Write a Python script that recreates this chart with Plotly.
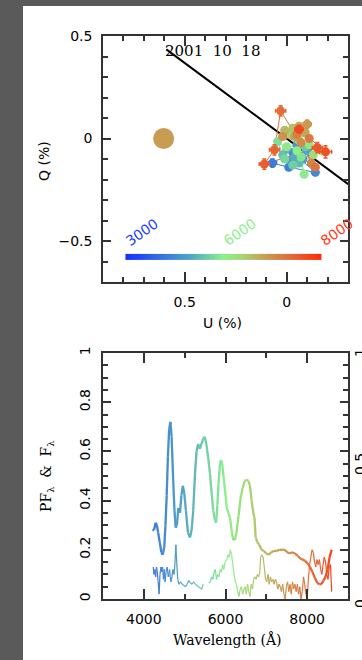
import plotly.graph_objects as go
from plotly.colors import sample_colorscale
import numpy as np

W, H = 362, 660

# ---------------- data ----------------
# interstellar-polarization direction line in Q-U plane
line_u = [0.590, 0.400, 0.200, 0.000, -0.200, -0.301]
line_q = [0.435, 0.295, 0.147, -0.001, -0.149, -0.223]

# big dot
dot_u = [0.603]
dot_q = [0.0]
dot_wave = [7300]

# binned Q-U points
qu_wave = [4250, 4350, 4450, 4550, 4650, 4750, 4850, 4950, 5050, 5150, 5250,
           5350, 5450, 5550, 5650, 5750, 5850, 5950, 6050, 6150, 6250, 6350,
           6450, 6550, 6650, 6750, 6850, 6950, 7050, 7150, 7250, 7350, 7450,
           7550, 7650, 7750, 7850, 7950, 8050, 8150, 8250, 8350, 8450, 8550]
qu_u = [0.07, -0.01, -0.14, -0.03, -0.05, -0.08, -0.02, -0.10, -0.04, 0.00, -0.06,
        0.02, -0.09, -0.03, 0.01, 0.045, -0.07, -0.085, -0.05, 0.00, -0.11, -0.17,
        -0.13, -0.06, -0.02, -0.08, -0.03, 0.01, -0.06, -0.09, -0.04, -0.10, 0.02,
        -0.07, -0.12, -0.05, -0.11, -0.14, 0.03, 0.06, 0.11, -0.15, -0.19, -0.06]
qu_q = [-0.12, -0.14, -0.165, -0.07, -0.03, -0.10, -0.11, -0.06, -0.09, -0.05, -0.12,
        -0.08, -0.04, -0.13, -0.10, -0.015, -0.09, -0.175, -0.06, -0.04, -0.03, -0.06,
        -0.08, -0.01, 0.02, 0.03, 0.05, 0.04, 0.06, 0.03, 0.01, 0.07, 0.01,
        -0.02, -0.12, 0.02, 0.00, -0.14, 0.135, -0.055, -0.125, -0.045, -0.065, 0.045]
qu_err = [0.02, 0.015, 0.015, 0.012, 0.012, 0.012, 0.012, 0.012, 0.012, 0.012, 0.012,
          0.012, 0.012, 0.012, 0.012, 0.012, 0.012, 0.012, 0.012, 0.012, 0.012, 0.015,
          0.012, 0.012, 0.012, 0.015, 0.015, 0.015, 0.015, 0.015, 0.015, 0.02, 0.015,
          0.015, 0.015, 0.015, 0.015, 0.015, 0.025, 0.025, 0.025, 0.025, 0.03, 0.02]

# total flux (upper curve)
flux_wave = [4210, 4250, 4290, 4320, 4350, 4390, 4430, 4460, 4500, 4530, 4560, 4590,
             4620, 4650, 4680, 4720, 4750, 4780, 4810, 4845, 4885, 4920, 4955, 4990,
             5030, 5080, 5130, 5170, 5210, 5250, 5290, 5330, 5370, 5410, 5450, 5490,
             5530, 5580, 5620, 5660, 5700, 5740, 5770, 5800, 5830, 5860, 5890, 5920,
             5950, 5990, 6030, 6070, 6110, 6150, 6190, 6230, 6270, 6320, 6370, 6420,
             6470, 6520, 6560, 6600, 6640, 6680, 6710, 6740, 6780, 6830, 6880, 6940,
             7000, 7060, 7120, 7180, 7250, 7320, 7390, 7450, 7510, 7570, 7630, 7700,
             7770, 7830, 7890, 7950, 8010, 8070, 8130, 8190, 8250, 8300, 8350, 8400,
             8450, 8500, 8550, 8600]
flux_val = [0.28, 0.28, 0.31, 0.30, 0.27, 0.23, 0.19, 0.18, 0.21, 0.30, 0.42, 0.58,
            0.69, 0.72, 0.66, 0.48, 0.36, 0.29, 0.30, 0.37, 0.35, 0.42, 0.46, 0.43,
            0.36, 0.27, 0.25, 0.28, 0.36, 0.50, 0.60, 0.63, 0.61, 0.63, 0.65, 0.66,
            0.63, 0.57, 0.51, 0.43, 0.36, 0.32, 0.31, 0.38, 0.47, 0.54, 0.565, 0.55,
            0.50, 0.44, 0.37, 0.35, 0.33, 0.28, 0.24, 0.24, 0.27, 0.34, 0.41, 0.45,
            0.48, 0.485, 0.48, 0.46, 0.40, 0.35, 0.33, 0.25, 0.23, 0.22, 0.20, 0.195,
            0.185, 0.18, 0.19, 0.195, 0.195, 0.20, 0.20, 0.20, 0.19, 0.185, 0.19, 0.185,
            0.175, 0.165, 0.16, 0.155, 0.145, 0.13, 0.11, 0.085, 0.065, 0.06, 0.06, 0.075,
            0.09, 0.12, 0.17, 0.20]

# polarized flux (lower noisy curve); None marks a gap
pf_wave = [4230, 4250, 4270, 4290, 4310, 4330, 4350, 4375, 4395, 4420, 4440, 4460,
           4480, 4500, 4520, 4545, 4570, 4600, 4630, 4660, 4680, 4710, 4740, 4760,
           4785, 4805, 4830, 4860, 4900, 4940, 4980, 5020, 5060, 5100, 5140, 5180,
           5220, 5260, 5300, 5340, 5380, 5420, 5450, 5520, 5590, 5630, 5660, 5690,
           5720, 5750, 5780, 5810, 5840, 5870, 5900, 5930, 5960, 5990, 6030, 6060,
           6090, 6120, 6150, 6180, 6210, 6240, 6270, 6300, 6330, 6360, 6390, 6420,
           6450, 6480, 6510, 6540, 6570, 6600, 6630, 6660, 6690, 6720, 6750, 6780,
           6810, 6840, 6860, 6890, 6920, 6950, 6980, 7010, 7040, 7070, 7100, 7130,
           7160, 7190, 7220, 7250, 7280, 7310, 7340, 7370, 7400, 7430, 7460, 7490,
           7520, 7550, 7580, 7610, 7640, 7670, 7700, 7730, 7760, 7790, 7820, 7850,
           7880, 7910, 7940, 7970, 8000, 8030, 8060, 8090, 8120, 8150, 8180, 8210,
           8240, 8270, 8300, 8330, 8360, 8390, 8420, 8450, 8480, 8510, 8540, 8570,
           8600]
pf_val = [0.13, 0.10, 0.12, 0.09, 0.13, 0.11, 0.07, 0.02, 0.10, 0.13, 0.11, 0.13,
          0.08, 0.12, 0.07, 0.11, 0.13, 0.09, 0.12, 0.07, 0.08, 0.12, 0.10, 0.14,
          0.22, 0.15, 0.08, 0.06, 0.07, 0.06, 0.055, 0.05, 0.06, 0.075, 0.065, 0.06,
          0.07, 0.06, 0.055, 0.05, 0.045, 0.04, 0.06, None, 0.065, 0.07, 0.09, 0.08,
          0.11, 0.12, 0.08, 0.10, 0.09, 0.12, 0.11, 0.14, 0.12, 0.15, 0.16, 0.18,
          0.17, 0.20, 0.18, 0.14, 0.10, 0.07, 0.06, 0.03, 0.01, 0.04, 0.05, 0.02,
          0.04, 0.05, 0.02, 0.06, 0.03, 0.01, 0.06, 0.04, 0.08, 0.09, 0.08, 0.10,
          0.09, 0.11, 0.17, 0.18, 0.17, 0.13, 0.08, 0.07, 0.10, 0.06, 0.09, 0.07,
          0.08, 0.06, 0.08, 0.07, 0.04, 0.06, 0.05, 0.03, 0.06, 0.02, 0.00, 0.05,
          0.07, 0.03, 0.06, 0.02, 0.07, 0.04, 0.06, 0.03, 0.06, 0.02, 0.05, 0.00,
          0.03, 0.09, 0.06, 0.02, 0.00, 0.08, 0.14, 0.17, 0.20, 0.19, 0.15, 0.13,
          0.16, 0.14, 0.16, 0.12, 0.10, 0.14, 0.17, 0.15, 0.10, 0.08, 0.13, 0.14,
          0.03]

bar_wave_min, bar_wave_max = 3000, 9000
bar_labels = ["3000", "6000", "8000"]
date_label = "2001  10  18"

# ---------------- styling helpers ----------------
WAVE_SCALE = [[0.0, '#1430ff'], [0.2, '#3c78dc'], [0.33, '#52a6c4'],
              [0.5, '#8cf08c'], [0.6, '#a8d474'], [0.72, '#c89a52'],
              [0.85, '#e26a38'], [1.0, '#ff2a0a']]


def wcol(w):
    t = (w - bar_wave_min) / (bar_wave_max - bar_wave_min)
    t = min(max(t, 0.0), 1.0)
    return sample_colorscale(WAVE_SCALE, [t])[0]


def px(x):
    return x / W


def py(y):
    return 1 - y / H


XD = [px(103), px(348)]
YD_TOP = [py(282), py(36)]
YD_BOT = [py(599), py(353)]

fig = go.Figure()

# ---- top panel ----
fig.add_trace(go.Scatter(x=line_u, y=line_q, mode='lines',
                         line=dict(color='black', width=2),
                         xaxis='x', yaxis='y', showlegend=False, hoverinfo='skip'))

fig.add_trace(go.Scatter(x=dot_u, y=dot_q, mode='markers',
                         marker=dict(color=wcol(dot_wave[0]), size=21, line=dict(width=0)),
                         xaxis='x', yaxis='y', showlegend=False))

# colour bar (heatmap of wavelengths)
bar_u0, bar_u1 = 0.79, -0.17
bar_q0, bar_q1 = -0.592, -0.563
nb = 120
bar_z = np.linspace(bar_wave_min, bar_wave_max, nb)
bar_x = np.linspace(bar_u0, bar_u1, nb + 1)
fig.add_trace(go.Heatmap(z=[bar_z], x=bar_x, y=[bar_q0, bar_q1],
                         colorscale=WAVE_SCALE, zmin=bar_wave_min, zmax=bar_wave_max,
                         showscale=False, xaxis='x', yaxis='y', hoverinfo='skip'))

# connecting lines between QU points
for i in range(len(qu_wave) - 1):
    fig.add_trace(go.Scatter(x=qu_u[i:i + 2], y=qu_q[i:i + 2], mode='lines',
                             line=dict(color=wcol((qu_wave[i] + qu_wave[i + 1]) / 2), width=1),
                             xaxis='x', yaxis='y', showlegend=False, hoverinfo='skip'))
# QU points with error bars
for w, u, q, e in zip(qu_wave, qu_u, qu_q, qu_err):
    c = wcol(w)
    fig.add_trace(go.Scatter(x=[u], y=[q], mode='markers',
                             marker=dict(color=c, size=9, line=dict(width=0)),
                             error_x=dict(type='data', array=[e], color=c, thickness=1.5, width=2),
                             error_y=dict(type='data', array=[e], color=c, thickness=1.5, width=2),
                             xaxis='x', yaxis='y', showlegend=False))

# ---- bottom panel ----
def add_colored_line(xs, ys, width):
    for i in range(len(xs) - 1):
        if ys[i] is None or ys[i + 1] is None:
            continue
        fig.add_trace(go.Scatter(x=xs[i:i + 2], y=ys[i:i + 2], mode='lines',
                                 line=dict(color=wcol((xs[i] + xs[i + 1]) / 2), width=width),
                                 xaxis='x2', yaxis='y2', showlegend=False, hoverinfo='skip'))


add_colored_line(flux_wave, flux_val, 2.3)
add_colored_line(pf_wave, pf_val, 1.2)

AX_COL = '#333333'
SANS = 'DejaVu Sans'
SERIF = 'DejaVu Serif'
TICKFONT = dict(family=SANS, size=14, color='black')
common = dict(showline=True, linecolor=AX_COL, linewidth=1.5, mirror='ticks',
              ticks='inside', tickcolor=AX_COL, tickwidth=1.5, showgrid=False,
              zeroline=False, tickfont=TICKFONT, ticklabelstandoff=6, automargin=False)

fig.update_layout(
    width=W, height=H,
    autosize=False,
    margin=dict(l=0, r=0, t=0, b=0, pad=0, autoexpand=False),
    paper_bgcolor='#5a5a5a', plot_bgcolor='white',
    showlegend=False,
    xaxis=dict(domain=XD, range=[0.9, -0.3], anchor='y', dtick=0.5, tick0=0,
               ticklen=10, minor=dict(dtick=0.1, tick0=0, ticklen=5, ticks='inside',
                                      tickcolor=AX_COL, tickwidth=1.5), **common),
    yaxis=dict(domain=YD_TOP, range=[-0.7, 0.5], anchor='x', dtick=0.5, tick0=0,
               ticklen=8, minor=dict(dtick=0.1, tick0=0, ticklen=5, ticks='inside',
                                     tickcolor=AX_COL, tickwidth=1.5), **common),
    xaxis2=dict(domain=XD, range=[3000, 9000], anchor='y2', dtick=2000, tick0=0,
                ticklen=10, minor=dict(dtick=1000, tick0=0, ticklen=5, ticks='inside',
                                       tickcolor=AX_COL, tickwidth=1.5), **common),
    yaxis2=dict(domain=YD_BOT, range=[0, 1], anchor='x2', dtick=0.2, tick0=0,
                ticklen=8, tickangle=-90,
                minor=dict(dtick=0.05, tick0=0, ticklen=5, ticks='inside',
                           tickcolor=AX_COL, tickwidth=1.5), **common),
)

shapes = [dict(type='rect', xref='paper', yref='paper', x0=px(23), x1=1.0,
               y0=0.0, y1=py(6), fillcolor='white', line=dict(width=0), layer='below')]
fig.update_layout(shapes=shapes)

ann = []
C = dict(xanchor='center', yanchor='middle', showarrow=False)
ann.append(dict(text=date_label, x=0.363, y=0.427, xref='x', yref='y',
                font=dict(family=SERIF, size=15, color='black'), **C))
bar_pos = [(0.708, '#1a3cff'), (0.230, '#8eee8e'), (-0.245, '#ff3a14')]
for (u, c), t in zip(bar_pos, bar_labels):
    ann.append(dict(text=t, x=u, y=-0.456, xref='x', yref='y',
                    textangle=-35, font=dict(family=SANS, size=14, color=c), **C))
ann.append(dict(text='Q (%)', x=px(44), y=py(161), xref='paper', yref='paper',
                textangle=-90, font=dict(family=SANS, size=14, color='black'), **C))
ann.append(dict(text='U (%)', x=px(222), y=py(323), xref='paper', yref='paper',
                font=dict(family=SANS, size=14, color='black'), **C))
ann.append(dict(text='PF<sub>λ</sub>  &amp;  F<sub>λ</sub>', x=px(47), y=py(476),
                xref='paper', yref='paper', textangle=-90,
                font=dict(family=SERIF, size=14, color='black'), **C))
ann.append(dict(text='Wavelength (Å)', x=px(227), y=py(639), xref='paper', yref='paper',
                font=dict(family=SERIF, size=14, color='black'), **C))
# tick labels of the neighbouring (cropped) panel
for t, yy in [('1', 353), ('0.5', 464), ('0', 604)]:
    ann.append(dict(text=t, x=px(360), y=py(yy), xref='paper', yref='paper',
                    textangle=-90, font=dict(family=SANS, size=14, color='black'), **C))
fig.update_layout(annotations=ann)

fig.write_html("out.html")
